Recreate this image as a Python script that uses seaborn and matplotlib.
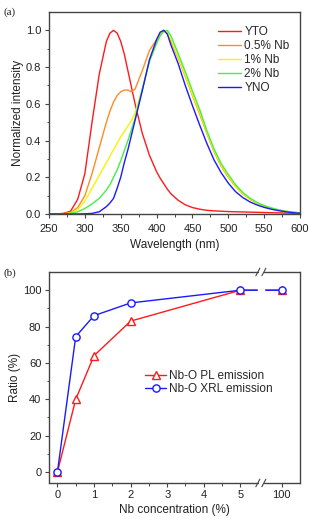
import numpy as np
import pandas as pd
import matplotlib
matplotlib.use("Agg")
import matplotlib.pyplot as plt
import seaborn as sns

# ---- panel (a): normalized PL spectra ----
wavelength = [250, 260, 270, 280, 290, 300, 310, 320, 330, 335, 340, 345, 350, 355, 360, 365, 370,
              380, 390, 400, 405, 410, 415, 420, 430, 440, 450, 460, 470, 480, 490, 500,
              510, 520, 530, 540, 550, 560, 570, 580, 590, 600]
yto = [0, 0, 0.003, 0.015, 0.08, 0.22, 0.50, 0.76, 0.94, 0.985, 1.0, 0.985, 0.94, 0.87, 0.78, 0.69, 0.60,
       0.44, 0.32, 0.23, 0.195, 0.165, 0.135, 0.11, 0.075, 0.05, 0.035, 0.026, 0.02, 0.017, 0.015, 0.013,
       0.012, 0.011, 0.01, 0.009, 0.008, 0.007, 0.006, 0.005, 0.004, 0.003]
nb05 = [0, 0, 0.002, 0.008, 0.035, 0.10, 0.22, 0.36, 0.50, 0.56, 0.61, 0.645, 0.665, 0.675, 0.675, 0.665, 0.68,
        0.78, 0.89, 0.95, 0.985, 1.0, 0.98, 0.94, 0.85, 0.75, 0.645, 0.545, 0.44, 0.34, 0.26, 0.20,
        0.15, 0.11, 0.08, 0.058, 0.042, 0.03, 0.021, 0.014, 0.009, 0.006]
nb1 = [0, 0, 0, 0.005, 0.025, 0.07, 0.14, 0.21, 0.28, 0.315, 0.35, 0.385, 0.42, 0.45, 0.48, 0.51, 0.55,
       0.68, 0.83, 0.93, 0.975, 1.0, 0.99, 0.95, 0.855, 0.755, 0.65, 0.555, 0.445, 0.345, 0.265, 0.205,
       0.152, 0.112, 0.082, 0.059, 0.044, 0.031, 0.021, 0.014, 0.009, 0.006]
nb2 = [0, 0, 0, 0.003, 0.012, 0.03, 0.055, 0.085, 0.13, 0.16, 0.20, 0.24, 0.29, 0.345, 0.40, 0.46, 0.52,
       0.68, 0.83, 0.93, 0.97, 0.995, 1.0, 0.97, 0.875, 0.775, 0.67, 0.57, 0.455, 0.355, 0.275, 0.215,
       0.16, 0.118, 0.087, 0.063, 0.046, 0.033, 0.023, 0.015, 0.01, 0.006]
yno = [0, 0, 0, 0, 0, 0.001, 0.003, 0.012, 0.04, 0.06, 0.085, 0.14, 0.20, 0.28, 0.35, 0.43, 0.51,
       0.67, 0.84, 0.95, 0.99, 1.0, 0.98, 0.92, 0.82, 0.70, 0.59, 0.485, 0.385, 0.295, 0.225, 0.168,
       0.122, 0.09, 0.066, 0.049, 0.036, 0.026, 0.018, 0.012, 0.007, 0.004]
samples = ["YTO", "0.5% Nb", "1% Nb", "2% Nb", "YNO"]
colors = ["#ff1a1a", "#ff8a26", "#f5f500", "#44f044", "#1a1aff"]

# ---- panel (b): Nb-O emission ratio ----
nb_conc = [0, 0.5, 1, 2, 5, 100]
pl_ratio = [0, 40, 64, 83, 100, 100]
xrl_ratio = [0, 74.5, 86, 93, 100, 100]
x_tick_labels = ["0", "1", "2", "3", "4", "5", "100"]

sns.set_style("ticks")
plt.rcParams["font.family"] = ["Liberation Sans", "DejaVu Sans"]
plt.rcParams["font.size"] = 8.5
txt = "#222222"
spc = "#444444"

fig = plt.figure(figsize=(3.11, 5.21), dpi=100)
ax1 = fig.add_axes([0.1576, 0.5893, 0.8071, 0.3877])
ax2 = fig.add_axes([0.1576, 0.0730, 0.8071, 0.4049])

spec = pd.DataFrame({"wl": wavelength, "YTO": yto, "0.5% Nb": nb05,
                     "1% Nb": nb1, "2% Nb": nb2, "YNO": yno})
spec = spec.melt(id_vars="wl", var_name="sample", value_name="intensity")
sns.lineplot(data=spec, x="wl", y="intensity", hue="sample", hue_order=samples,
             palette=dict(zip(samples, colors)), linewidth=1.0, ax=ax1)
ax1.set_xlim(250, 600)
ax1.set_ylim(0, 1.1)
ax1.set_xticks(np.arange(250, 601, 50))
ax1.set_xticks(np.arange(250, 601, 25), minor=True)
ax1.set_yticks(np.arange(0, 1.01, 0.2))
ax1.set_yticks(np.arange(0, 1.05, 0.1), minor=True)
ax1.yaxis.set_major_formatter(matplotlib.ticker.FormatStrFormatter("%.1f"))
ax1.set_xlabel("Wavelength (nm)", color=txt, labelpad=4)
ax1.set_ylabel("Normalized intensity", color=txt)
ax1.yaxis.set_label_coords(-0.1, 0.5)
ax1.legend(loc="upper left", bbox_to_anchor=(0.672, 0.93), frameon=False,
           borderpad=0, borderaxespad=0, handlelength=2.0, handletextpad=0.25,
           labelspacing=0.17, fontsize=8.5)

# panel (b): broken x axis, 100 % sits past the break
def xpos(v):
    return v if v <= 5 else 6.13

df_b = pd.DataFrame({"pos": [xpos(v) for v in nb_conc], "pl": pl_ratio, "xrl": xrl_ratio})
sns.lineplot(data=df_b, x="pos", y="pl", color="#ff1a1a", linewidth=1.0, marker="^",
             markersize=6, markerfacecolor="white", markeredgecolor="#ff1a1a",
             markeredgewidth=1.0, label="Nb-O PL emission", ax=ax2)
sns.lineplot(data=df_b, x="pos", y="xrl", color="#1a1aff", linewidth=1.0, marker="o",
             markersize=5.2, markerfacecolor="white", markeredgecolor="#1a1aff",
             markeredgewidth=1.0, label="Nb-O XRL emission", ax=ax2)
ax2.set_xlim(-0.23, 6.63)
ax2.set_ylim(-6, 110)
ax2.axvspan(5.47, 5.65, color="white", zorder=2.2)
ax2.set_xticks([0, 1, 2, 3, 4, 5, 6.13])
ax2.set_xticklabels(x_tick_labels)
ax2.set_xticks([0.5, 1.5, 2.5, 3.5, 4.5], minor=True)
ax2.set_yticks(np.arange(0, 101, 20))
ax2.set_yticks(np.arange(0, 101, 10), minor=True)
ax2.set_xlabel("Nb concentration (%)", color=txt, labelpad=3)
ax2.set_ylabel("Ratio (%)", color=txt)
ax2.yaxis.set_label_coords(-0.112, 0.5)
ax2.legend(loc="upper left", bbox_to_anchor=(0.382, 0.535), frameon=False,
           borderpad=0, borderaxespad=0, handlelength=1.8, handletextpad=0.25,
           labelspacing=0.1, fontsize=8.5)

# hand-drawn top/bottom spines with break marks
ax2.spines["top"].set_visible(False)
ax2.spines["bottom"].set_visible(False)
b0, b1 = 0.832, 0.856
for yy in (0, 1):
    ax2.plot([0, b0], [yy, yy], transform=ax2.transAxes, color=spc, lw=1.0, clip_on=False, zorder=5)
    ax2.plot([b1, 1], [yy, yy], transform=ax2.transAxes, color=spc, lw=1.0, clip_on=False, zorder=5)
    for bx in (b0, b1):
        ax2.plot([bx - 0.008, bx + 0.008], [yy - 0.018, yy + 0.018], transform=ax2.transAxes,
                 color=spc, lw=0.8, clip_on=False, zorder=5)

for ax in (ax1, ax2):
    for s in ax.spines.values():
        s.set_color(spc)
        s.set_linewidth(1.0)
    ax.tick_params(which="major", direction="out", length=3, width=0.8, color=spc,
                   labelsize=8, labelcolor=txt)
    ax.tick_params(which="minor", direction="out", length=1.8, width=0.7, color=spc)
    ax.tick_params(axis="y", which="major", pad=2.5)
ax1.tick_params(axis="x", which="major", pad=4)
ax2.tick_params(axis="x", which="major", pad=2)

fig.text(0.01, 0.985, "(a)", family=["Liberation Serif"], fontsize=8, color=txt, va="top")
fig.text(0.01, 0.485, "(b)", family=["Liberation Serif"], fontsize=8, color=txt, va="top")

fig.savefig("out.png", dpi=100)
